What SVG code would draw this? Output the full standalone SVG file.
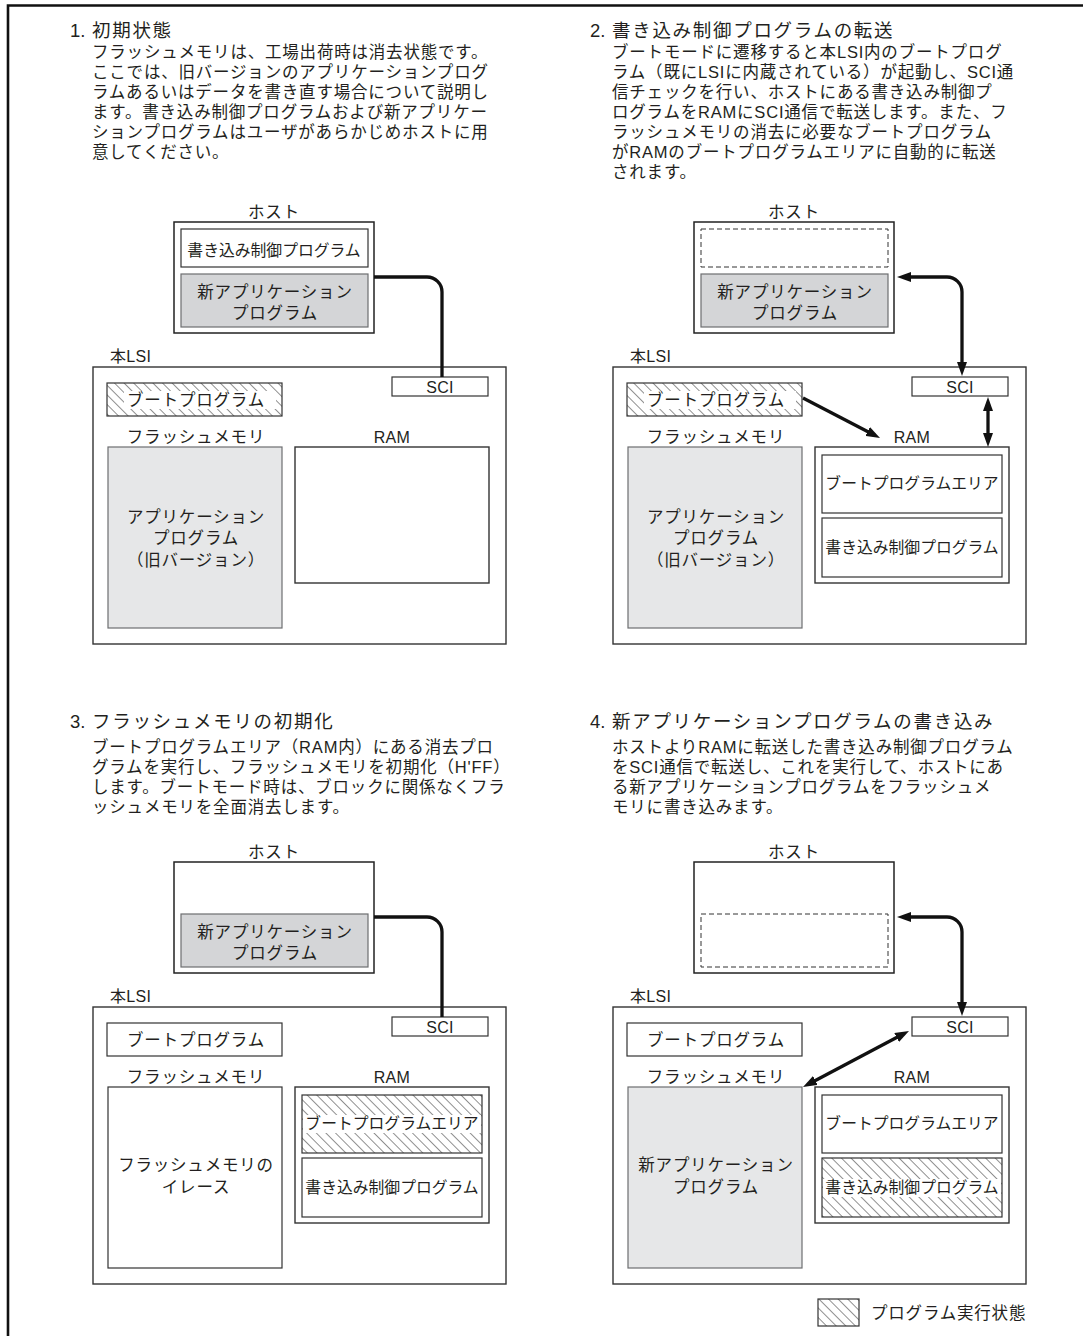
<svg xmlns="http://www.w3.org/2000/svg" width="1083" height="1336" viewBox="0 0 1083 1336">
<style>
text{font-family:"Liberation Sans","Noto Sans CJK JP",sans-serif;fill:#231f20}
.ttl{font-size:18.5px}
.ttlj{letter-spacing:1.7px}
.body{font-size:16.5px;letter-spacing:0.8px}
.lbl{font-size:16.5px;letter-spacing:0.8px;text-anchor:middle}
.nar{font-size:15.8px;letter-spacing:0px;text-anchor:middle}
.lat{font-size:16px;letter-spacing:0.3px}
.box{fill:#fff;stroke:#333;stroke-width:1.4}
.hostb{fill:#fff;stroke:#222;stroke-width:1.5}
.inw{fill:#fff;stroke:#333;stroke-width:1.2}
.gray{fill:#d4d5d7;stroke:#6d6e70;stroke-width:1.2}
.lgray{fill:#e6e7e8;stroke:#6d6e70;stroke-width:1.2}
.dash{fill:none;stroke:#333;stroke-width:1;stroke-dasharray:5 3}
.hat{fill:url(#hatch);stroke:#333;stroke-width:1.2}
.knock{fill:#fff}
.conn{fill:none;stroke:#111;stroke-width:3.3}
</style>
<defs>
<pattern id="hatch" patternUnits="userSpaceOnUse" width="6.8" height="6.8" patternTransform="rotate(-45)">
<rect width="6.8" height="6.8" fill="#fff"/>
<line x1="0" y1="0" x2="0" y2="6.8" stroke="#222" stroke-width="1"/>
</pattern>
<marker id="ah" viewBox="0 0 14 10" refX="8" refY="5" markerWidth="14" markerHeight="10" markerUnits="userSpaceOnUse" orient="auto-start-reverse">
<path d="M0,0 L14,5 L0,10 z" fill="#111"/>
</marker>
</defs>

<g id="frame">
<path d="M8,1336 V5.5 H1083" fill="none" stroke="#111" stroke-width="2.6"/>
</g>

<g id="text1">
<text class="ttl" x="70" y="37">1.<tspan class="ttlj" x="92">初期状態</tspan></text>
<text class="body" x="92" y="58">フラッシュメモリは、工場出荷時は消去状態です。</text>
<text class="body" x="92" y="78">ここでは、旧バージョンのアプリケーションプログ</text>
<text class="body" x="92" y="98">ラムあるいはデータを書き直す場合について説明し</text>
<text class="body" x="92" y="118">ます。書き込み制御プログラムおよび新アプリケー</text>
<text class="body" x="92" y="138">ションプログラムはユーザがあらかじめホストに用</text>
<text class="body" x="92" y="158">意してください。</text>
</g>
<g id="text2">
<text class="ttl" x="590" y="37">2.<tspan class="ttlj" x="612">書き込み制御プログラムの転送</tspan></text>
<text class="body" x="612" y="58">ブートモードに遷移すると本LSI内のブートプログ</text>
<text class="body" x="612" y="78">ラム（既にLSIに内蔵されている）が起動し、SCI通</text>
<text class="body" x="612" y="98">信チェックを行い、ホストにある書き込み制御プ</text>
<text class="body" x="612" y="118">ログラムをRAMにSCI通信で転送します。また、フ</text>
<text class="body" x="612" y="138">ラッシュメモリの消去に必要なブートプログラム</text>
<text class="body" x="612" y="158">がRAMのブートプログラムエリアに自動的に転送</text>
<text class="body" x="612" y="178">されます。</text>
</g>
<g id="text3">
<text class="ttl" x="70" y="728">3.<tspan class="ttlj" x="92">フラッシュメモリの初期化</tspan></text>
<text class="body" x="92" y="753">ブートプログラムエリア（RAM内）にある消去プロ</text>
<text class="body" x="92" y="773">グラムを実行し、フラッシュメモリを初期化（H'FF）</text>
<text class="body" x="92" y="793">します。ブートモード時は、ブロックに関係なくフラ</text>
<text class="body" x="92" y="813">ッシュメモリを全面消去します。</text>
</g>
<g id="text4">
<text class="ttl" x="590" y="728">4.<tspan class="ttlj" x="612">新アプリケーションプログラムの書き込み</tspan></text>
<text class="body" x="612" y="753">ホストよりRAMに転送した書き込み制御プログラム</text>
<text class="body" x="612" y="773">をSCI通信で転送し、これを実行して、ホストにあ</text>
<text class="body" x="612" y="793">る新アプリケーションプログラムをフラッシュメ</text>
<text class="body" x="612" y="813">モリに書き込みます。</text>
</g>

<!-- Panel 1 -->
<g id="host1">
<text class="lbl" x="274" y="218">ホスト</text>
<rect class="hostb" x="174" y="222" width="200" height="111"/>
<rect class="inw" x="181" y="229" width="187" height="38"/>
<text class="nar" x="274" y="256">書き込み制御プログラム</text>
<rect class="gray" x="181" y="274" width="187" height="53"/>
<text class="lbl" x="275" y="298">新アプリケーション</text>
<text class="lbl" x="275" y="319">プログラム</text>
</g>
<g id="lsi1">
<text class="lat" x="110" y="362">本LSI</text>
<rect class="box" x="93" y="367" width="413" height="277"/>
</g>
<g id="sci1">
<rect class="inw" x="392" y="377" width="96" height="19"/>
<text class="lat" x="440" y="393" text-anchor="middle">SCI</text>
</g>
<g id="boot1">
<rect class="hat" x="107" y="383" width="175" height="33"/>
<rect class="knock" x="124" y="391" width="152" height="18"/>
<text class="lbl" x="196" y="406">ブートプログラム</text>
</g>
<g id="flash1">
<text class="lbl" x="196" y="443">フラッシュメモリ</text>
<rect class="lgray" x="108" y="447" width="174" height="181"/>
<text class="lbl" x="196" y="523">アプリケーション</text>
<text class="lbl" x="196" y="544">プログラム</text>
<text class="lbl" x="196" y="566">（旧バージョン）</text>
</g>
<g id="ram1">
<text class="lat" x="392" y="443" text-anchor="middle">RAM</text>
<rect class="box" x="295" y="447" width="194" height="136"/>
</g>

<!-- Panel 2 -->
<g id="host2">
<text class="lbl" x="794" y="218">ホスト</text>
<rect class="hostb" x="694" y="222" width="200" height="111"/>
<rect class="dash" x="701" y="229" width="187" height="38"/>
<rect class="gray" x="701" y="274" width="187" height="53"/>
<text class="lbl" x="795" y="298">新アプリケーション</text>
<text class="lbl" x="795" y="319">プログラム</text>
</g>
<g id="lsi2">
<text class="lat" x="630" y="362">本LSI</text>
<rect class="box" x="613" y="367" width="413" height="277"/>
</g>
<g id="sci2">
<rect class="inw" x="912" y="377" width="96" height="19"/>
<text class="lat" x="960" y="393" text-anchor="middle">SCI</text>
</g>
<g id="boot2">
<rect class="hat" x="627" y="383" width="175" height="33"/>
<rect class="knock" x="644" y="391" width="152" height="18"/>
<text class="lbl" x="716" y="406">ブートプログラム</text>
</g>
<g id="flash2">
<text class="lbl" x="716" y="443">フラッシュメモリ</text>
<rect class="lgray" x="628" y="447" width="174" height="181"/>
<text class="lbl" x="716" y="523">アプリケーション</text>
<text class="lbl" x="716" y="544">プログラム</text>
<text class="lbl" x="716" y="566">（旧バージョン）</text>
</g>
<g id="ram2">
<text class="lat" x="912" y="443" text-anchor="middle">RAM</text>
<rect class="box" x="815" y="447" width="194" height="136"/>
<rect class="inw" x="822" y="455" width="180" height="58"/>
<text class="nar" x="912" y="489">ブートプログラムエリア</text>
<rect class="inw" x="822" y="518" width="180" height="59"/>
<text class="nar" x="912" y="553">書き込み制御プログラム</text>
</g>

<!-- Panel 3 -->
<g id="host3">
<text class="lbl" x="274" y="858">ホスト</text>
<rect class="hostb" x="174" y="862" width="200" height="111"/>
<rect class="gray" x="181" y="914" width="187" height="53"/>
<text class="lbl" x="275" y="938">新アプリケーション</text>
<text class="lbl" x="275" y="959">プログラム</text>
</g>
<g id="lsi3">
<text class="lat" x="110" y="1002">本LSI</text>
<rect class="box" x="93" y="1007" width="413" height="277"/>
</g>
<g id="sci3">
<rect class="inw" x="392" y="1017" width="96" height="19"/>
<text class="lat" x="440" y="1033" text-anchor="middle">SCI</text>
</g>
<g id="boot3">
<rect class="inw" x="107" y="1023" width="175" height="33"/>
<text class="lbl" x="196" y="1046">ブートプログラム</text>
</g>
<g id="flash3">
<text class="lbl" x="196" y="1083">フラッシュメモリ</text>
<rect class="inw" x="108" y="1087" width="174" height="181"/>
<text class="lbl" x="196" y="1171">フラッシュメモリの</text>
<text class="lbl" x="196" y="1193">イレース</text>
</g>
<g id="ram3">
<text class="lat" x="392" y="1083" text-anchor="middle">RAM</text>
<rect class="box" x="295" y="1087" width="194" height="136"/>
<rect class="hat" x="302" y="1095" width="180" height="58"/>
<rect class="knock" x="303" y="1115" width="178" height="18"/>
<text class="nar" x="392" y="1129">ブートプログラムエリア</text>
<rect class="inw" x="302" y="1158" width="180" height="59"/>
<text class="nar" x="392" y="1193">書き込み制御プログラム</text>
</g>

<!-- Panel 4 -->
<g id="host4">
<text class="lbl" x="794" y="858">ホスト</text>
<rect class="hostb" x="694" y="862" width="200" height="111"/>
<rect class="dash" x="701" y="914" width="187" height="53"/>
</g>
<g id="lsi4">
<text class="lat" x="630" y="1002">本LSI</text>
<rect class="box" x="613" y="1007" width="413" height="277"/>
</g>
<g id="sci4">
<rect class="inw" x="912" y="1017" width="96" height="19"/>
<text class="lat" x="960" y="1033" text-anchor="middle">SCI</text>
</g>
<g id="boot4">
<rect class="inw" x="627" y="1023" width="175" height="33"/>
<text class="lbl" x="716" y="1046">ブートプログラム</text>
</g>
<g id="flash4">
<text class="lbl" x="716" y="1083">フラッシュメモリ</text>
<rect class="lgray" x="628" y="1087" width="174" height="181"/>
<text class="lbl" x="716" y="1171">新アプリケーション</text>
<text class="lbl" x="716" y="1193">プログラム</text>
</g>
<g id="ram4">
<text class="lat" x="912" y="1083" text-anchor="middle">RAM</text>
<rect class="box" x="815" y="1087" width="194" height="136"/>
<rect class="inw" x="822" y="1095" width="180" height="58"/>
<text class="nar" x="912" y="1129">ブートプログラムエリア</text>
<rect class="hat" x="822" y="1158" width="180" height="59"/>
<rect class="knock" x="823" y="1179" width="178" height="18"/>
<text class="nar" x="912" y="1193">書き込み制御プログラム</text>
</g>

<g id="legend">
<rect class="hat" x="818" y="1299" width="41" height="27"/>
<text class="body" x="871" y="1319">プログラム実行状態</text>
</g>

<g id="connectors">
<path class="conn" d="M374,277 H427 A15,15 0 0 1 442,292 V377"/>
<path class="conn" d="M903,277 H947 A15,15 0 0 1 962,292 V370" marker-start="url(#ah)" marker-end="url(#ah)"/>
<path class="conn" d="M988,403 V441" marker-start="url(#ah)" marker-end="url(#ah)"/>
<path class="conn" d="M803,398 L874.7,435.2" marker-end="url(#ah)"/>
<path class="conn" d="M374,917 H427 A15,15 0 0 1 442,932 V1017"/>
<path class="conn" d="M903,917 H947 A15,15 0 0 1 962,932 V1010" marker-start="url(#ah)" marker-end="url(#ah)"/>
<path class="conn" d="M903.7,1033.8 L808.3,1084.2" marker-start="url(#ah)" marker-end="url(#ah)"/>
</g>
</svg>
